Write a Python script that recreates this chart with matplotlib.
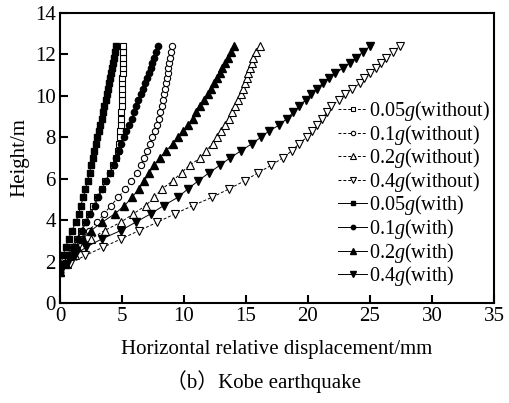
import matplotlib
matplotlib.use("Agg")
import matplotlib.pyplot as plt

plt.rcParams["font.family"] = ["Liberation Serif", "Noto Sans CJK SC", "DejaVu Serif"]
plt.rcParams["mathtext.fontset"] = "custom"
plt.rcParams["mathtext.rm"] = "Liberation Serif"
plt.rcParams["mathtext.it"] = "Liberation Serif:italic"

# heights of the nodes (m)
height = [1.5, 1.9, 2.3, 2.7, 3.1, 3.5, 3.9, 4.3, 4.7, 5.1, 5.5, 5.9, 6.3, 6.65,
          7.0, 7.35, 7.7, 8.0, 8.3, 8.6, 8.9, 9.2, 9.5, 9.8, 10.1, 10.35, 10.6,
          10.85, 11.1, 11.35, 11.6, 11.85, 12.1, 12.4]

# horizontal relative displacement (mm)
d005_without = [0, 0.2, 0.55, 0.95, 1.35, 1.7, 2.05, 2.35, 2.7, 3.0, 3.35, 3.65, 4.0, 4.3,
                4.5, 4.65, 4.75, 4.82, 4.87, 4.9, 4.93, 4.95, 4.97, 4.98, 5.0, 5.01, 5.02,
                5.03, 5.04, 5.05, 5.06, 5.07, 5.08, 5.1]
d01_without = [0, 0.3, 0.7, 1.2, 1.75, 2.35, 2.95, 3.55, 4.1, 4.7, 5.25, 5.75, 6.2, 6.5,
               6.78, 7.02, 7.25, 7.45, 7.65, 7.83, 7.96, 8.08, 8.2, 8.3, 8.4, 8.47, 8.54,
               8.61, 8.68, 8.74, 8.8, 8.86, 8.93, 9.0]
d02_without = [0, 0.55, 1.2, 1.8, 2.5, 3.6, 4.9, 5.9, 6.9, 7.6, 8.2, 9.1, 9.8, 10.45,
               11.3, 11.8, 12.3, 12.65, 13.0, 13.3, 13.6, 13.85, 14.1, 14.35, 14.6, 14.78, 14.93,
               15.05, 15.2, 15.33, 15.45, 15.6, 15.8, 16.1]
d04_without = [0, 0.8, 2.05, 3.5, 4.95, 6.4, 7.85, 9.25, 10.7, 12.25, 13.6, 14.9, 16.0, 17.05,
               17.95, 18.7, 19.3, 19.9, 20.35, 20.75, 21.15, 21.5, 21.85, 22.5, 23.0, 23.55, 24.2,
               24.55, 25.0, 25.5, 25.9, 26.3, 26.85, 27.4]
d005_with = [0, 0.08, 0.25, 0.45, 0.7, 0.95, 1.28, 1.5, 1.68, 1.87, 2.05, 2.22, 2.38, 2.52,
             2.65, 2.78, 2.9, 3.02, 3.13, 3.24, 3.35, 3.46, 3.57, 3.68, 3.78, 3.87, 3.96,
             4.04, 4.12, 4.2, 4.28, 4.36, 4.43, 4.5]
d01_with = [0, 0.28, 0.6, 1.05, 1.45, 1.78, 2.1, 2.45, 2.82, 3.1, 3.4, 3.7, 4.05, 4.33,
            4.55, 4.75, 4.95, 5.15, 5.35, 5.55, 5.8, 5.98, 6.15, 6.33, 6.5, 6.68, 6.85,
            7.02, 7.17, 7.32, 7.45, 7.58, 7.72, 7.9]
d02_with = [0, 0.4, 0.85, 1.35, 1.85, 2.5, 3.4, 4.4, 5.2, 5.8, 6.35, 6.8, 7.2, 7.6,
            8.05, 8.55, 9.1, 9.5, 9.9, 10.3, 10.7, 11.0, 11.25, 11.6, 11.9, 12.15, 12.4,
            12.65, 12.9, 13.1, 13.3, 13.55, 13.75, 14.0]
d04_with = [0, 0.55, 1.2, 2.1, 3.4, 4.9, 6.1, 7.3, 8.35, 9.5, 10.3, 11.15, 12.05, 12.9,
            13.7, 14.6, 15.5, 16.2, 16.85, 17.7, 18.3, 18.8, 19.3, 19.8, 20.25, 20.7, 21.2,
            21.7, 22.2, 22.85, 23.4, 23.9, 24.4, 25.0]

fig = plt.figure(figsize=(5.09, 4.03), dpi=100)
ax = fig.add_axes([0.1179, 0.2481, 0.8526, 0.7196])

ms = 4.5
dash = (0, (3, 2))
ax.plot(d005_without, height, color="k", lw=0.7, ls=dash, marker="s", ms=ms,
        mfc="white", mec="k", mew=0.8, label="0.05$g$(without)")
ax.plot(d01_without, height, color="k", lw=0.7, ls=dash, marker="o", ms=ms,
        mfc="white", mec="k", mew=0.8, label="0.1$g$(without)")
ax.plot(d02_without, height, color="k", lw=0.7, ls=dash, marker="^", ms=ms + 1,
        mfc="white", mec="k", mew=0.8, label="0.2$g$(without)")
ax.plot(d04_without, height, color="k", lw=0.7, ls=dash, marker="v", ms=ms + 1,
        mfc="white", mec="k", mew=0.8, label="0.4$g$(without)")
ax.plot(d005_with, height, color="k", lw=0.7, marker="s", ms=ms, label="0.05$g$(with)")
ax.plot(d01_with, height, color="k", lw=0.7, marker="o", ms=ms, label="0.1$g$(with)")
ax.plot(d02_with, height, color="k", lw=0.7, marker="^", ms=ms + 1, label="0.2$g$(with)")
ax.plot(d04_with, height, color="k", lw=0.7, marker="v", ms=ms + 1, label="0.4$g$(with)")

ax.set_xlim(0, 35)
ax.set_ylim(0, 14)
ax.set_xticks(range(0, 36, 5))
ax.set_yticks(range(0, 15, 2))
ax.tick_params(direction="in", length=6, width=1.5, labelsize=15, pad=3)
for s in ax.spines.values():
    s.set_linewidth(1.5)

ax.set_xlabel("Horizontal relative displacement/mm", fontsize=15, labelpad=10)
ax.set_ylabel("Height/m", fontsize=15, labelpad=4)

ax.legend(loc="upper left", bbox_to_anchor=(338 / 509, 1 - 99 / 403),
          bbox_transform=fig.transFigure, frameon=False, fontsize=14.5,
          handlelength=1.45, handletextpad=0.1, labelspacing=-0.02, borderpad=0,
          borderaxespad=0, markerscale=0.7)

fig.text(263 / 509, 1 - 382 / 403, "（b）Kobe earthquake", ha="center", va="center",
         fontsize=15)

fig.savefig("out.png", dpi=100)
